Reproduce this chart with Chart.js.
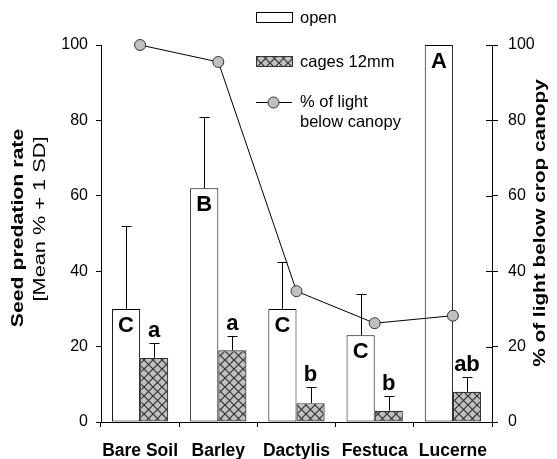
<!DOCTYPE html>
<html>
<head>
<meta charset="utf-8">
<script src="https://cdn.jsdelivr.net/npm/chart.js@4"></script>
<style>
html,body{margin:0;padding:0;background:#fff;}
canvas{display:block;}
</style>
</head>
<body>
<canvas id="c" width="557" height="459"></canvas>
<script>
const categories = ['Bare Soil', 'Barley', 'Dactylis', 'Festuca', 'Lucerne'];
const openMean = [30, 62, 30, 23, 100];
const openSD = [22, 19, 12.5, 11, 0];
const cageMean = [17, 19, 5, 3, 8];
const cageSD = [4, 3.8, 4.2, 3.9, 4];
const lightPct = [100, 95.5, 34.7, 26.2, 28.2];
const openLetters = ['C', 'B', 'C', 'C', 'A'];
const cageLetters = ['a', 'a', 'b', 'b', 'ab'];
const seriesNames = ['open', 'cages 12mm', '% of light', 'below canopy'];
const leftTitle = ['Seed predation rate', '[Mean % + 1 SD]'];
const rightTitle = '% of light below crop canopy';

const FONT = '"Liberation Sans", Arial, sans-serif';

function makeHatch() {
  const s = 9;
  const c = document.createElement('canvas');
  c.width = s; c.height = s;
  const g = c.getContext('2d');
  g.fillStyle = '#c0c0c0';
  g.fillRect(0, 0, s, s);
  g.strokeStyle = '#333';
  g.lineWidth = 1.2;
  g.beginPath();
  g.moveTo(-1, -1); g.lineTo(s + 1, s + 1);
  g.moveTo(s + 1, -1); g.lineTo(-1, s + 1);
  g.stroke();
  return c;
}
const ctx0 = document.getElementById('c').getContext('2d');
const hatch = ctx0.createPattern(makeHatch(), 'repeat');

const extras = {
  id: 'extras',
  afterDatasetsDraw(chart) {
    const ctx = chart.ctx;
    const y = chart.scales.y;
    const groups = [
      { idx: 1, mean: openMean, sd: openSD, letters: openLetters, inside: true },
      { idx: 2, mean: cageMean, sd: cageSD, letters: cageLetters, inside: false }
    ];
    ctx.save();
    groups.forEach(g => {
      const meta = chart.getDatasetMeta(g.idx);
      meta.data.forEach((el, j) => {
        const x = Math.round(el.x) + 0.5;
        const top = el.y;
        let errY = top;
        if (g.sd[j] > 0) {
          errY = Math.round(y.getPixelForValue(g.mean[j] + g.sd[j])) + 0.5;
          ctx.strokeStyle = '#000';
          ctx.lineWidth = 1;
          ctx.beginPath();
          ctx.moveTo(x, top);
          ctx.lineTo(x, errY);
          ctx.moveTo(x - 5, errY);
          ctx.lineTo(x + 5, errY);
          ctx.stroke();
        }
        ctx.fillStyle = '#000';
        ctx.font = 'bold 22px ' + FONT;
        ctx.textAlign = 'center';
        ctx.textBaseline = 'alphabetic';
        if (g.inside) {
          ctx.fillText(g.letters[j], el.x, top + 23);
        } else {
          ctx.fillText(g.letters[j], el.x, errY - 6.5);
        }
      });
    });
    ctx.restore();
  },
  afterDraw(chart) {
    const ctx = chart.ctx;
    const y2 = chart.scales.y2;
    ctx.save();
    ctx.strokeStyle = '#000';
    ctx.lineWidth = 1;
    y2.ticks.forEach(t => {
      const yy = Math.round(y2.getPixelForValue(t.value)) + 0.5;
      ctx.beginPath();
      ctx.moveTo(y2.left - 6, yy);
      ctx.lineTo(y2.left, yy);
      ctx.stroke();
    });
    ctx.fillStyle = '#000';
    ctx.textAlign = 'center';
    ctx.textBaseline = 'middle';
    function vtext(txt, font, cx, cy, sx) {
      ctx.save();
      ctx.translate(cx, cy);
      ctx.rotate(-Math.PI / 2);
      ctx.scale(sx, 1);
      ctx.font = font;
      ctx.fillText(txt, 0, 0);
      ctx.restore();
    }
    vtext(leftTitle[0], 'bold 17px ' + FONT, 18, 228, 1.25);
    vtext(leftTitle[1], '16px ' + FONT, 40.5, 219, 1.36);
    vtext(rightTitle, 'bold 16.5px ' + FONT, 540, 223, 1.26);

    const lx0 = 256, lx1 = 292, tx = 300;
    ctx.lineWidth = 1;
    ctx.fillStyle = '#fff';
    ctx.fillRect(lx0, 12, lx1 - lx0, 11);
    ctx.strokeStyle = '#000';
    ctx.strokeRect(lx0 + 0.5, 12.5, lx1 - lx0, 10);
    ctx.fillStyle = hatch;
    ctx.fillRect(lx0, 56, lx1 - lx0, 11);
    ctx.strokeStyle = '#333';
    ctx.strokeRect(lx0 + 0.5, 56.5, lx1 - lx0, 10);
    ctx.strokeStyle = '#000';
    ctx.beginPath();
    ctx.moveTo(lx0, 102.5);
    ctx.lineTo(lx1, 102.5);
    ctx.stroke();
    ctx.beginPath();
    ctx.arc(273.5, 102.5, 5.5, 0, Math.PI * 2);
    ctx.fillStyle = '#c0c0c0';
    ctx.fill();
    ctx.strokeStyle = '#333';
    ctx.stroke();
    ctx.fillStyle = '#000';
    ctx.font = '16.5px ' + FONT;
    ctx.textAlign = 'left';
    ctx.textBaseline = 'middle';
    ctx.fillText(seriesNames[0], tx, 18);
    ctx.fillText(seriesNames[1], tx, 62);
    ctx.fillText(seriesNames[2], tx, 102);
    ctx.fillText(seriesNames[3], tx, 122);
    ctx.restore();
  }
};

new Chart(ctx0, {
  type: 'bar',
  data: {
    labels: categories,
    datasets: [
      {
        type: 'line',
        label: '% of light below canopy',
        data: lightPct,
        yAxisID: 'y2',
        order: 0,
        clip: false,
        borderColor: '#000',
        borderWidth: 1,
        tension: 0,
        pointRadius: 5.5,
        pointBackgroundColor: '#c0c0c0',
        pointBorderColor: '#333',
        pointBorderWidth: 1,
        fill: false
      },
      {
        label: 'open',
        data: openMean,
        yAxisID: 'y',
        order: 1,
        clip: false,
        backgroundColor: '#fff',
        borderColor: '#000',
        borderWidth: 1,
        borderSkipped: false
      },
      {
        label: 'cages 12mm',
        data: cageMean,
        yAxisID: 'y',
        order: 1,
        backgroundColor: hatch,
        borderColor: '#333',
        borderWidth: 1.2,
        borderSkipped: false
      }
    ]
  },
  options: {
    responsive: false,
    animation: false,
    devicePixelRatio: 1,
    layout: { padding: { top: 45, left: 0, right: 0, bottom: 0 } },
    datasets: { bar: { categoryPercentage: 0.72, barPercentage: 1.0 } },
    plugins: { legend: { display: false }, tooltip: { enabled: false } },
    scales: {
      x: {
        type: 'category',
        offset: true,
        grid: { offset: true, drawOnChartArea: false, drawTicks: true, tickLength: 5, color: '#000' },
        border: { display: true, color: '#000', width: 1 },
        ticks: { color: '#000', padding: 14, maxRotation: 0, autoSkip: false, font: { family: FONT, size: 17.5, weight: 'bold' } },
        afterFit(s) { s.height = 37; }
      },
      y: {
        position: 'left',
        min: 0, max: 100,
        grid: { drawOnChartArea: false, drawTicks: true, tickLength: 5, color: '#000' },
        border: { display: true, color: '#000', width: 1 },
        ticks: { stepSize: 20, color: '#000', padding: 8, font: { family: FONT, size: 16 } },
        afterFit(s) { s.width = 101; }
      },
      y2: {
        position: 'right',
        min: 0, max: 100,
        grid: { drawOnChartArea: false, drawTicks: true, tickLength: 6, color: '#000' },
        border: { display: true, color: '#000', width: 1 },
        ticks: { stepSize: 20, color: '#000', padding: 10, font: { family: FONT, size: 16 } },
        afterFit(s) { s.width = 65; }
      }
    }
  },
  plugins: [extras]
});
</script>
</body>
</html>
